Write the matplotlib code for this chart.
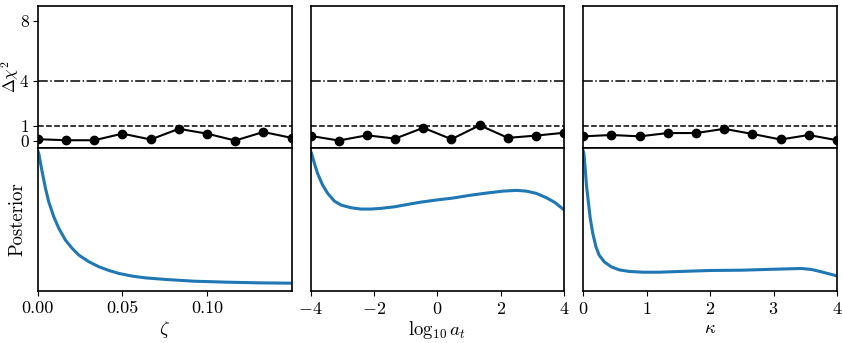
import matplotlib
matplotlib.use("Agg")
import matplotlib.pyplot as plt

plt.rcParams["font.family"] = "serif"
plt.rcParams["font.serif"] = ["cmr10"]
plt.rcParams["mathtext.fontset"] = "cm"
plt.rcParams["axes.formatter.use_mathtext"] = True
plt.rcParams["font.size"] = 13.5
plt.rcParams["xtick.labelsize"] = 13
plt.rcParams["ytick.labelsize"] = 12.5
plt.rcParams["ytick.major.pad"] = 2.5
plt.rcParams["axes.linewidth"] = 1.2

# delta chi^2 scan points
zeta_grid = [0.0, 0.01667, 0.03333, 0.05, 0.06667, 0.08333, 0.1, 0.11667, 0.13333, 0.15]
zeta_dchi2 = [0.11, 0.04, 0.04, 0.48, 0.09, 0.80, 0.48, 0.02, 0.59, 0.20]

logat_grid = [-4.0, -3.111, -2.222, -1.333, -0.444, 0.444, 1.333, 2.222, 3.111, 4.0]
logat_dchi2 = [0.33, 0.02, 0.37, 0.15, 0.87, 0.11, 1.04, 0.20, 0.35, 0.54]

kappa_grid = [0.0, 0.444, 0.889, 1.333, 1.778, 2.222, 2.667, 3.111, 3.556, 4.0]
kappa_dchi2 = [0.30, 0.39, 0.30, 0.52, 0.52, 0.80, 0.46, 0.09, 0.39, 0.04]

# posterior curves (arbitrary units)
zeta_x = [0.0, 0.0005, 0.0025, 0.0045, 0.0064, 0.0094, 0.0124, 0.0163, 0.0203, 0.0242,
          0.0302, 0.0361, 0.042, 0.048, 0.056, 0.0638, 0.0757, 0.0919, 0.1118, 0.1315, 0.15]
zeta_post = [0.98, 0.965, 0.836, 0.719, 0.625, 0.520, 0.438, 0.356, 0.298, 0.251,
             0.204, 0.169, 0.143, 0.122, 0.103, 0.091, 0.080, 0.068, 0.061, 0.056, 0.054]

logat_x = [-4.0, -3.97, -3.88, -3.78, -3.62, -3.46, -3.25, -3.04, -2.72, -2.41, -2.09, -1.78,
           -1.35, -0.93, -0.51, 0.02, 0.48, 1.01, 1.54, 2.07, 2.49, 2.80, 3.12, 3.44, 3.70, 4.0]
logat_post = [0.98, 0.965, 0.895, 0.824, 0.742, 0.684, 0.630, 0.602, 0.583, 0.574, 0.574, 0.579,
              0.590, 0.607, 0.623, 0.639, 0.651, 0.670, 0.686, 0.700, 0.705, 0.700, 0.684, 0.653, 0.621, 0.567]

kappa_x = [0.0, 0.01, 0.03, 0.05, 0.08, 0.11, 0.15, 0.20, 0.25, 0.33, 0.44, 0.57, 0.73, 0.94,
           1.20, 1.52, 2.00, 2.49, 3.02, 3.44, 3.60, 3.76, 4.0]
kappa_post = [0.98, 0.965, 0.860, 0.742, 0.625, 0.508, 0.403, 0.309, 0.251, 0.204, 0.169, 0.147,
              0.136, 0.131, 0.131, 0.136, 0.143, 0.145, 0.152, 0.157, 0.150, 0.133, 0.105]

panels = [
    (zeta_grid, zeta_dchi2, zeta_x, zeta_post, (0, 0.15), [0.0, 0.05, 0.10], r"$\zeta$"),
    (logat_grid, logat_dchi2, logat_x, logat_post, (-4, 4), [-4, -2, 0, 2, 4], r"$\log_{10} a_t$"),
    (kappa_grid, kappa_dchi2, kappa_x, kappa_post, (0, 4), [0, 1, 2, 3, 4], r"$\kappa$"),
]

fig = plt.figure(figsize=(8.42, 3.43), dpi=100)
gs = fig.add_gridspec(2, 3, left=0.045, right=0.994, bottom=0.152, top=0.983,
                      hspace=0, wspace=0.075)

for i, (grid, dchi2, px, post, xlim, xticks, xlabel) in enumerate(panels):
    top = fig.add_subplot(gs[0, i])
    bot = fig.add_subplot(gs[1, i], sharex=top)

    top.axhline(4, color="k", ls="-.", lw=1.1)
    top.axhline(1, color="k", ls="--", lw=1.1)
    top.plot(grid, dchi2, "o-", color="k", lw=1.5, ms=6)
    top.set_ylim(-0.5, 9)
    top.tick_params(axis="x", bottom=False, labelbottom=False)

    bot.plot(px, post, color="#1f77b4", lw=2.2)
    bot.set_ylim(0, 1)
    bot.set_yticks([])
    bot.set_xlim(*xlim)
    bot.set_xticks(xticks)
    if i == 0:
        bot.set_xticklabels(["0.00", "0.05", "0.10"])
    bot.set_xlabel(xlabel, labelpad=2)

    if i == 0:
        top.set_yticks([0, 1, 4, 8])
        top.set_ylabel(r"$\Delta\chi^2$", fontsize=12)
        top.yaxis.set_label_coords(-0.068, 0.5)
        bot.set_ylabel("Posterior")
        bot.yaxis.set_label_coords(-0.045, 0.5)
    else:
        top.set_yticks([])

fig.savefig("out.png", dpi=100)
